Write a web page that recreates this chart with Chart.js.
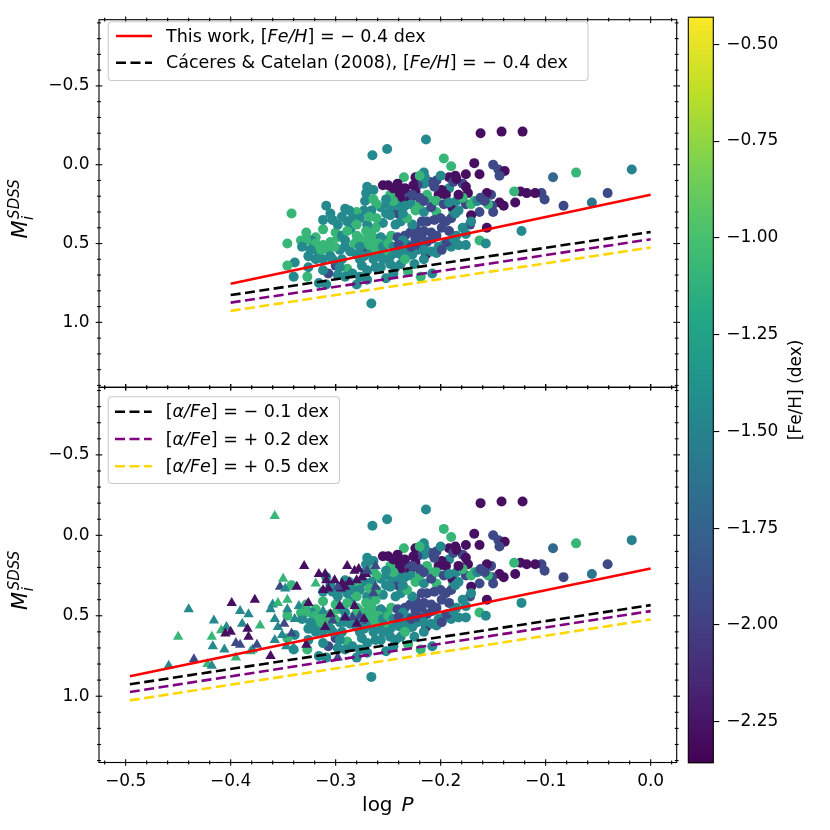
<!DOCTYPE html>
<html>
<head>
<meta charset="utf-8">
<script src="https://cdn.jsdelivr.net/npm/chart.js@4.4.1/dist/chart.umd.min.js"></script>
<style>
html,body{margin:0;padding:0;background:#fff;}
#wrap{position:relative;width:830px;height:830px;background:#fff;}
canvas{position:absolute;left:0;top:0;}
</style>
</head>
<body>
<div id="wrap">
<canvas id="topPanel" width="830" height="830"></canvas>
<canvas id="botPanel" width="830" height="830"></canvas>
<canvas id="cbar" width="830" height="830"></canvas>
</div>
<script>
// ---------------- DATA ----------------
// RR Lyrae stars (circles) : log P, M_i^SDSS, [Fe/H]
const circLogP = [-0.162,-0.142,-0.122,-0.214,-0.265,-0.251,-0.197,-0.190,-0.168,-0.150,-0.163,-0.145,-0.139,-0.144,-0.093,-0.071,-0.018,-0.041,-0.056,-0.083,
-0.101,-0.104,-0.110,-0.118,-0.124,-0.130,-0.129,-0.123,-0.140,-0.144,-0.152,-0.156,-0.151,-0.150,-0.155,-0.163,-0.168,-0.171,-0.172,-0.171,
-0.156,-0.176,-0.186,-0.192,-0.179,-0.176,-0.174,-0.176,-0.188,-0.189,-0.192,-0.195,-0.199,-0.202,-0.206,-0.210,-0.215,-0.216,-0.222,-0.224,
-0.226,-0.231,-0.229,-0.235,-0.241,-0.241,-0.238,-0.255,-0.270,-0.264,-0.248,-0.250,-0.246,-0.241,-0.234,-0.228,-0.224,-0.216,-0.213,-0.208,
-0.204,-0.200,-0.195,-0.190,-0.186,-0.183,-0.179,-0.176,-0.185,-0.192,-0.199,-0.206,-0.213,-0.218,-0.224,-0.229,-0.234,-0.238,-0.243,-0.248,
-0.252,-0.255,-0.261,-0.262,-0.266,-0.270,-0.271,-0.273,-0.272,-0.271,-0.264,-0.280,-0.284,-0.287,-0.291,-0.294,-0.309,-0.342,-0.312,-0.300,
-0.298,-0.291,-0.286,-0.280,-0.277,-0.271,-0.268,-0.262,-0.257,-0.252,-0.247,-0.241,-0.236,-0.231,-0.224,-0.218,-0.213,-0.208,-0.202,-0.197,
-0.190,-0.183,-0.176,-0.163,-0.157,-0.214,-0.222,-0.227,-0.232,-0.238,-0.243,-0.248,-0.254,-0.259,-0.264,-0.270,-0.275,-0.280,-0.286,-0.291,
-0.296,-0.301,-0.307,-0.312,-0.317,-0.319,-0.323,-0.328,-0.333,-0.332,-0.346,-0.339,-0.346,-0.340,-0.327,-0.316,-0.309,-0.307,-0.300,-0.312,
-0.305,-0.294,-0.289,-0.284,-0.280,-0.275,-0.270,-0.262,-0.255,-0.252,-0.243,-0.231,-0.219,-0.208,-0.266,-0.291,-0.298,-0.319,-0.326,-0.316,
-0.328,-0.314,-0.305,-0.294,-0.289,-0.282,-0.277,-0.273,-0.268,-0.262,-0.259,-0.255,-0.250,-0.245,-0.240,-0.234,-0.228,-0.220,-0.216,-0.209,
-0.204,-0.199,-0.194,-0.188,-0.204,-0.209,-0.216,-0.222,-0.227,-0.232,-0.236,-0.241,-0.245,-0.252,-0.257,-0.261,-0.266,-0.268,-0.277,-0.280,
-0.289,-0.298,-0.303,-0.305,-0.312,-0.319,-0.324,-0.303,-0.296,-0.277,-0.264,-0.257,-0.248,-0.238,-0.225,-0.216,-0.234,-0.245,-0.277,-0.270,
-0.312,-0.326,-0.220,-0.216,-0.209,-0.204,-0.197,-0.192,-0.185,-0.179,-0.183,-0.188,-0.185,-0.171,-0.165,-0.158,-0.162,-0.224,-0.220,-0.234,
-0.238,-0.245,-0.250,-0.227,-0.204,-0.200,-0.216,-0.220];
const circMag = [-0.20,-0.21,-0.21,-0.16,-0.06,-0.10,-0.04,0.01,-0.01,0.00,0.06,0.03,0.04,0.07,0.08,0.05,0.03,0.18,0.24,0.26,
0.22,0.18,0.18,0.18,0.17,0.17,0.24,0.42,0.26,0.24,0.19,0.18,0.26,0.30,0.25,0.30,0.23,0.32,0.38,0.36,
0.40,0.06,0.07,0.08,0.12,0.14,0.18,0.25,0.30,0.27,0.15,0.19,0.16,0.19,0.14,0.11,0.08,0.12,0.13,0.08,
0.13,0.19,0.23,0.08,0.12,0.18,0.22,0.13,0.14,0.16,0.19,0.25,0.29,0.31,0.26,0.25,0.29,0.30,0.19,0.23,
0.30,0.34,0.36,0.34,0.31,0.29,0.40,0.44,0.45,0.42,0.40,0.35,0.36,0.36,0.40,0.43,0.45,0.36,0.38,0.32,
0.31,0.37,0.34,0.40,0.43,0.38,0.42,0.29,0.23,0.18,0.22,0.30,0.34,0.29,0.28,0.33,0.26,0.31,0.41,0.43,
0.46,0.48,0.41,0.45,0.47,0.48,0.45,0.47,0.46,0.48,0.45,0.46,0.48,0.51,0.47,0.45,0.49,0.47,0.52,0.51,
0.52,0.51,0.51,0.48,0.50,0.57,0.54,0.57,0.58,0.57,0.56,0.58,0.55,0.57,0.53,0.56,0.54,0.57,0.55,0.52,
0.54,0.52,0.54,0.51,0.52,0.46,0.48,0.48,0.48,0.52,0.50,0.62,0.64,0.71,0.71,0.75,0.76,0.69,0.64,0.60,
0.58,0.60,0.66,0.69,0.76,0.64,0.67,0.65,0.60,0.72,0.65,0.68,0.71,0.69,0.88,0.71,0.70,0.60,0.58,0.56,
0.43,0.54,0.49,0.45,0.42,0.50,0.52,0.58,0.51,0.54,0.50,0.52,0.50,0.52,0.51,0.54,0.52,0.51,0.54,0.55,
0.56,0.54,0.49,0.47,0.45,0.43,0.42,0.44,0.38,0.34,0.31,0.26,0.23,0.22,0.27,0.25,0.29,0.33,0.34,0.38,
0.36,0.38,0.35,0.31,0.35,0.50,0.54,0.60,0.65,0.60,0.60,0.65,0.63,0.63,0.63,0.60,0.60,0.69,0.71,0.73,
0.67,0.65,0.25,0.23,0.27,0.23,0.25,0.24,0.23,0.21,0.19,0.11,0.09,0.25,0.23,0.23,0.21,0.17,0.21,0.15,
0.17,0.15,0.13,0.19,0.10,0.07,0.05,0.07];
const circFeH = [-2.28,-2.28,-2.28,-1.45,-1.45,-1.45,-1.08,-1.08,-2.28,-1.93,-2.28,-1.93,-2.28,-1.93,-1.70,-1.08,-1.50,-1.93,-1.60,-1.93,
-1.93,-1.93,-2.28,-2.28,-2.28,-1.08,-2.28,-1.45,-2.28,-2.28,-1.93,-2.28,-1.93,-1.93,-1.08,-1.93,-1.08,-2.28,-1.93,-1.45,
-2.28,-2.28,-2.28,-2.28,-1.93,-2.28,-2.28,-1.93,-1.08,-2.28,-1.45,-2.28,-2.28,-2.28,-1.93,-1.93,-1.45,-1.45,-1.93,-2.28,
-2.28,-1.93,-2.28,-1.08,-2.28,-2.28,-2.28,-2.28,-1.45,-1.45,-1.08,-1.45,-1.45,-1.93,-1.45,-1.45,-1.08,-1.45,-1.08,-1.08,
-1.08,-1.93,-1.93,-1.93,-1.45,-1.45,-1.45,-1.45,-1.45,-1.93,-1.93,-1.93,-1.93,-1.93,-1.93,-1.93,-1.93,-1.45,-1.45,-1.45,
-1.45,-1.45,-1.08,-1.08,-1.08,-1.45,-1.08,-1.45,-1.45,-1.45,-1.08,-1.08,-1.45,-1.45,-1.45,-1.45,-1.45,-1.08,-1.08,-1.08,
-1.08,-1.45,-1.45,-1.08,-1.08,-1.08,-1.08,-1.08,-1.45,-1.45,-1.08,-1.93,-1.45,-1.45,-1.93,-1.93,-1.93,-1.93,-1.45,-1.45,
-1.45,-1.45,-1.45,-1.08,-1.45,-2.28,-1.45,-1.45,-1.45,-1.45,-1.45,-1.45,-1.08,-1.45,-1.93,-1.45,-1.93,-1.45,-1.45,-1.45,
-1.45,-1.08,-1.08,-1.08,-1.08,-1.08,-1.45,-1.08,-1.08,-1.45,-1.08,-1.45,-1.08,-1.45,-1.08,-1.45,-1.45,-1.93,-1.93,-1.45,
-1.45,-1.45,-1.08,-1.45,-1.45,-1.45,-1.45,-1.45,-1.45,-1.45,-1.45,-1.08,-1.08,-1.45,-1.45,-1.45,-1.45,-1.45,-1.45,-1.45,
-1.08,-1.08,-1.08,-1.45,-1.08,-1.08,-1.45,-1.45,-1.08,-1.08,-1.08,-1.45,-1.08,-1.45,-1.93,-1.45,-1.93,-1.93,-1.45,-1.45,
-1.45,-1.93,-1.93,-1.45,-1.93,-1.93,-1.93,-1.93,-1.45,-1.08,-1.45,-1.45,-1.08,-1.45,-1.45,-1.08,-1.45,-1.08,-1.45,-1.08,
-1.45,-1.45,-1.45,-1.45,-1.45,-1.08,-1.45,-1.45,-1.45,-1.45,-1.45,-1.45,-1.45,-1.45,-1.45,-1.45,-1.08,-1.45,-1.45,-1.45,
-1.45,-1.45,-1.08,-1.93,-1.93,-1.08,-1.93,-1.45,-1.45,-1.08,-2.28,-1.93,-2.28,-1.08,-1.45,-1.93,-1.93,-2.28,-1.93,-2.28,
-2.28,-2.28,-2.28,-1.93,-1.93,-1.45,-1.45,-1.08];

// Additional stars (triangles), lower panel only
const triLogP = [-0.358,-0.440,-0.450,-0.459,-0.435,-0.422,-0.418,-0.416,-0.418,-0.417,-0.406,-0.409,-0.404,-0.400,-0.405,-0.399,-0.391,-0.389,-0.383,-0.384,
-0.383,-0.395,-0.391,-0.381,-0.379,-0.375,-0.395,-0.377,-0.372,-0.362,-0.358,-0.360,-0.362,-0.355,-0.358,-0.355,-0.353,-0.350,-0.348,-0.346,
-0.346,-0.351,-0.349,-0.347,-0.342,-0.339,-0.337,-0.330,-0.335,-0.332,-0.326,-0.321,-0.319,-0.316,-0.310,-0.309,-0.312,-0.307,-0.305,-0.310,
-0.303,-0.295,-0.296,-0.289,-0.287,-0.282,-0.280,-0.278,-0.275,-0.271,-0.270,-0.262,-0.262,-0.264,-0.291,-0.294,-0.298,-0.282,-0.284,-0.277,
-0.273,-0.294,-0.291,-0.280,-0.328,-0.298,-0.340,-0.312,-0.301];
const triMag = [-0.12,0.46,0.63,0.81,0.77,0.80,0.81,0.53,0.63,0.69,0.71,0.59,0.57,0.60,0.61,0.42,0.47,0.55,0.49,0.58,
0.63,0.67,0.68,0.72,0.71,0.68,0.76,0.40,0.56,0.75,0.65,0.43,0.46,0.42,0.52,0.57,0.32,0.27,0.33,0.40,
0.46,0.62,0.55,0.69,0.61,0.52,0.32,0.19,0.44,0.48,0.42,0.59,0.30,0.24,0.24,0.28,0.47,0.33,0.49,0.57,
0.53,0.33,0.44,0.19,0.29,0.22,0.28,0.21,0.26,0.24,0.22,0.19,0.32,0.36,0.32,0.30,0.32,0.44,0.51,0.50,
0.52,0.55,0.51,0.55,0.68,0.76,0.70,0.34,0.28];
const triFeH = [-1.08,-1.45,-1.08,-1.45,-1.93,-1.08,-1.45,-1.45,-1.08,-1.45,-1.45,-1.08,-1.45,-2.28,-2.28,-2.28,-1.45,-1.45,-1.45,-2.28,
-2.28,-1.93,-1.93,-1.08,-1.45,-1.93,-1.08,-2.28,-1.08,-2.28,-1.45,-1.45,-1.45,-1.08,-1.45,-1.45,-1.93,-1.08,-1.45,-1.08,
-1.45,-1.45,-1.93,-1.45,-1.93,-1.45,-2.28,-2.28,-1.45,-1.08,-2.28,-1.45,-1.08,-2.28,-2.28,-2.28,-1.45,-2.28,-2.28,-2.28,
-1.93,-2.28,-2.28,-2.28,-2.28,-2.28,-2.28,-2.28,-2.28,-2.28,-1.93,-1.93,-1.93,-1.93,-2.28,-2.28,-1.93,-2.28,-1.93,-1.93,
-2.28,-1.45,-2.28,-2.28,-2.28,-1.93,-1.45,-2.28,-2.28];

// PL relations (end points)
const relTopLogP   = [-0.40, 0.00];
const redTopMag    = [0.755, 0.190];
const blackTopMag  = [0.827, 0.427];
const purpleTopMag = [0.875, 0.473];
const goldTopMag   = [0.927, 0.525];
const relBotLogP   = [-0.496, 0.00];
const redBotMag    = [0.876, 0.206];
const blackBotMag  = [0.926, 0.434];
const purpleBotMag = [0.974, 0.471];
const goldBotMag   = [1.026, 0.523];

// Ticks
const xMajorTicks = [-0.5,-0.4,-0.3,-0.2,-0.1,0.0];
const xMinorTicks = [-0.52,-0.48,-0.46,-0.44,-0.42,-0.38,-0.36,-0.34,-0.32,-0.28,-0.26,-0.24,-0.22,-0.18,-0.16,-0.14,-0.12,-0.08,-0.06,-0.04,-0.02,0.02];
const yMajorTicks = [-0.5,0.0,0.5,1.0];
const yMinorTicks = [-0.9,-0.8,-0.7,-0.6,-0.4,-0.3,-0.2,-0.1,0.1,0.2,0.3,0.4,0.6,0.7,0.8,0.9,1.1,1.2,1.3,1.4];
const cbTicks = [-2.25,-2.00,-1.75,-1.50,-1.25,-1.00,-0.75,-0.50];

// Axis limits
const X_MIN = -0.5254, X_MAX = 0.0248;
const Y_MIN = -0.92, Y_MAX = 1.412;
const CB_MIN = -2.356, CB_MAX = -0.430;

// ---------------- STYLE / LAYOUT ----------------
const W = 830;
const AX_L = 99, AX_R = 676.7, TOP_T = 12.7, MID = 387.3, BOT_B = 762.5;
const CB_L = 688.3, CB_R = 713.3, CB_T = 12.7, CB_B = 762.7;
const FONT = '"DejaVu Sans", sans-serif';
const FS = 17;
const LFS = 17.5;
const RED = '#ff0000', BLACK = '#000000', PURPLE = '#800080', GOLD = '#ffd700';
const DASH = [10, 4.5];

Chart.defaults.font.family = FONT;
Chart.defaults.font.size = FS;
Chart.defaults.color = '#000';

const VIRIDIS = ['#440154','#482475','#414487','#355f8d','#2a788e','#21918c','#22a884','#44bf70','#7ad151','#bddf26','#fde725'];
function hex2rgb(h){return [parseInt(h.slice(1,3),16),parseInt(h.slice(3,5),16),parseInt(h.slice(5,7),16)];}
const VIR_RGB = VIRIDIS.map(hex2rgb);
function viridis(t){
  t = Math.max(0, Math.min(1, t));
  const p = t * (VIR_RGB.length - 1);
  const i = Math.min(Math.floor(p), VIR_RGB.length - 2);
  const f = p - i;
  const a = VIR_RGB[i], b = VIR_RGB[i+1];
  return 'rgb(' + [0,1,2].map(k => Math.round(a[k] + (b[k]-a[k])*f)).join(',') + ')';
}
const fehColor = v => viridis((v - CB_MIN) / (CB_MAX - CB_MIN));

const fmt1 = v => (v < -1e-9 ? '\u2212' : '') + Math.abs(v).toFixed(1);
const fmt2 = v => (v < -1e-9 ? '\u2212' : '') + Math.abs(v).toFixed(2);

function pts(xs, ys){ return xs.map((x,i)=>({x:x, y:ys[i]})); }

function lineDS(xs, ys, color, dash){
  return {data: pts(xs, ys), showLine: true, borderColor: color, backgroundColor: color,
          borderWidth: 2.6, borderDash: dash, pointRadius: 0, fill: false, order: 0};
}
function circleDS(){
  return {data: pts(circLogP, circMag), backgroundColor: circFeH.map(fehColor), borderWidth: 0,
          pointRadius: 5, pointStyle: 'circle', order: 2};
}
function triDS(){
  return {data: pts(triLogP, triMag), backgroundColor: triFeH.map(fehColor), borderWidth: 0,
          pointRadius: 6, pointStyle: 'triangle', order: 1};
}

// frame + inout ticks on four sides
const framePlugin = {
  id: 'frame',
  afterDraw(chart){
    const {ctx, chartArea: a} = chart;
    const xs = chart.scales.x, ys = chart.scales.y;
    ctx.save();
    ctx.strokeStyle = '#000';
    ctx.lineWidth = 1.1;
    ctx.strokeRect(a.left, a.top, a.right - a.left, a.bottom - a.top);
    const seg = (x0,y0,x1,y1)=>{ctx.beginPath();ctx.moveTo(x0,y0);ctx.lineTo(x1,y1);ctx.stroke();};
    const xt = (list, h) => list.forEach(v => {
      const p = xs.getPixelForValue(v);
      seg(p, a.bottom - h, p, a.bottom + h);
      seg(p, a.top - h, p, a.top + h);
    });
    const yt = (list, h) => list.forEach(v => {
      const p = ys.getPixelForValue(v);
      seg(a.left - h, p, a.left + h, p);
      seg(a.right - h, p, a.right + h, p);
    });
    xt(xMajorTicks, 3.3); xt(xMinorTicks, 1.9);
    yt(yMajorTicks, 3.3); yt(yMinorTicks, 1.9);
    ctx.restore();
  }
};

function richText(ctx, parts, x, y, size){
  let cx = x;
  for (const [txt, it] of parts){
    ctx.font = (it ? 'italic ' : '') + size + 'px ' + FONT;
    ctx.fillText(txt, cx, y);
    cx += ctx.measureText(txt).width;
  }
  return cx;
}
function roundRect(ctx, x0, y0, x1, y1, r){
  ctx.beginPath();
  ctx.moveTo(x0 + r, y0);
  ctx.lineTo(x1 - r, y0); ctx.quadraticCurveTo(x1, y0, x1, y0 + r);
  ctx.lineTo(x1, y1 - r); ctx.quadraticCurveTo(x1, y1, x1 - r, y1);
  ctx.lineTo(x0 + r, y1); ctx.quadraticCurveTo(x0, y1, x0, y1 - r);
  ctx.lineTo(x0, y0 + r); ctx.quadraticCurveTo(x0, y0, x0 + r, y0);
  ctx.closePath();
}

const legendPlugin = {
  id: 'richLegend',
  afterDraw(chart, args, opts){
    if (!opts || !opts.rows) return;
    const ctx = chart.ctx;
    const [x0,y0,x1,y1] = opts.box;
    ctx.save();
    roundRect(ctx, x0, y0, x1, y1, 3.5);
    ctx.fillStyle = 'rgba(255,255,255,0.8)'; ctx.fill();
    ctx.strokeStyle = '#cccccc'; ctx.lineWidth = 1.1; ctx.stroke();
    for (const row of opts.rows){
      const ds = chart.data.datasets[row.ds];
      ctx.strokeStyle = ds.borderColor; ctx.lineWidth = ds.borderWidth;
      ctx.setLineDash(ds.borderDash || []);
      ctx.beginPath(); ctx.moveTo(opts.hx0, row.y); ctx.lineTo(opts.hx1, row.y); ctx.stroke();
      ctx.setLineDash([]);
      ctx.fillStyle = '#000'; ctx.textBaseline = 'middle'; ctx.textAlign = 'left';
      richText(ctx, row.parts, opts.tx, row.y + 1, LFS);
    }
    ctx.restore();
  }
};

const titlesPlugin = {
  id: 'titles',
  afterDraw(chart, args, opts){
    const ctx = chart.ctx, a = chart.chartArea;
    ctx.save();
    ctx.fillStyle = '#000'; ctx.textAlign = 'left'; ctx.textBaseline = 'alphabetic';
    // y title M_i^SDSS (rotated, reads bottom to top)
    const cy = (a.top + a.bottom) / 2;
    ctx.translate(27, cy);
    ctx.rotate(-Math.PI/2);
    const fM = 'italic 21px ' + FONT, fS = 'italic 15px ' + FONT;
    ctx.font = fM; const wM = ctx.measureText('M').width;
    const x0 = -35;
    ctx.fillText('M', x0, 0);
    ctx.font = fS;
    ctx.fillText('SDSS', x0 + wM + 1.5, -8);
    ctx.fillText('i', x0 + wM + 0.5, 5.5);
    ctx.restore();
    if (opts && opts.xTitle){
      ctx.save();
      ctx.fillStyle = '#000'; ctx.textBaseline = 'alphabetic'; ctx.textAlign = 'left';
      ctx.font = '20px ' + FONT; const wl = ctx.measureText('log').width;
      ctx.font = 'italic 20px ' + FONT; const wp = ctx.measureText('P').width;
      const gap = 9;
      const cx = (a.left + a.right) / 2;
      const sx = cx - (wl + gap + wp) / 2;
      ctx.font = '20px ' + FONT; ctx.fillText('log', sx, 811);
      ctx.font = 'italic 20px ' + FONT; ctx.fillText('P', sx + wl + gap, 811);
      ctx.restore();
    }
  }
};

function panelOptions(top, bottom, showX, xh, legend, xTitle){
  return {
    responsive: false, animation: false,
    layout: {padding: {left: 0, right: W - AX_R, top: top, bottom: W - bottom - xh}},
    plugins: {legend: {display: false}, tooltip: {enabled: false}, richLegend: legend, titles: {xTitle: xTitle}},
    scales: {
      x: {type: 'linear', min: X_MIN, max: X_MAX,
          grid: {display: false, drawTicks: false}, border: {display: false},
          ticks: {display: showX, padding: 9, color: '#000', font: {size: FS}, callback: v => fmt1(v), maxRotation: 0, autoSkip: false},
          afterBuildTicks: s => { s.ticks = xMajorTicks.map(v => ({value: v})); },
          afterFit: s => { s.height = xh; }},
      y: {type: 'linear', reverse: true, min: Y_MIN, max: Y_MAX,
          grid: {display: false, drawTicks: false}, border: {display: false},
          ticks: {padding: 9.5, color: '#000', font: {size: FS}, callback: v => fmt1(v), autoSkip: false},
          afterBuildTicks: s => { s.ticks = yMajorTicks.map(v => ({value: v})); },
          afterFit: s => { s.width = AX_L; }}
    }
  };
}

const FEH_PARTS = [['[', 0], ['Fe/H', 1], ['] = \u2212 0.4 dex', 0]];

// ---------- Top panel ----------
new Chart(document.getElementById('topPanel'), {
  type: 'scatter',
  data: {datasets: [
    lineDS(relTopLogP, redTopMag, RED, []),
    lineDS(relTopLogP, blackTopMag, BLACK, DASH),
    lineDS(relTopLogP, purpleTopMag, PURPLE, DASH),
    lineDS(relTopLogP, goldTopMag, GOLD, DASH),
    circleDS()
  ]},
  options: panelOptions(TOP_T, MID, false, 0, {
    box: [108.3, 21.7, 588, 80.5], hx0: 116, hx1: 152, tx: 166,
    rows: [
      {ds: 0, y: 36, parts: [['This work, ', 0]].concat(FEH_PARTS)},
      {ds: 1, y: 62.7, parts: [['C\u00e1ceres & Catelan (2008), ', 0]].concat(FEH_PARTS)}
    ]}, false),
  plugins: [framePlugin, legendPlugin, titlesPlugin]
});

// ---------- Bottom panel ----------
new Chart(document.getElementById('botPanel'), {
  type: 'scatter',
  data: {datasets: [
    lineDS(relBotLogP, redBotMag, RED, []),
    lineDS(relBotLogP, blackBotMag, BLACK, DASH),
    lineDS(relBotLogP, purpleBotMag, PURPLE, DASH),
    lineDS(relBotLogP, goldBotMag, GOLD, DASH),
    triDS(),
    circleDS()
  ]},
  options: panelOptions(MID, BOT_B, true, W - BOT_B, {
    box: [108.3, 396.7, 339.5, 483.5], hx0: 115, hx1: 151.7, tx: 165.7,
    rows: [
      {ds: 1, y: 411.7, parts: [['[', 0], ['\u03b1/Fe', 1], ['] = \u2212 0.1 dex', 0]]},
      {ds: 2, y: 439, parts: [['[', 0], ['\u03b1/Fe', 1], ['] = + 0.2 dex', 0]]},
      {ds: 3, y: 466.3, parts: [['[', 0], ['\u03b1/Fe', 1], ['] = + 0.5 dex', 0]]}
    ]}, true),
  plugins: [framePlugin, legendPlugin, titlesPlugin]
});

// ---------- Colour bar ----------
const cbPlugin = {
  id: 'cbfill',
  beforeDatasetsDraw(chart){
    const {ctx, chartArea: a} = chart; const ys = chart.scales.y;
    ctx.save();
    for (let py = Math.floor(a.top); py < a.bottom; py++){
      const v = ys.getValueForPixel(py + 0.5);
      ctx.fillStyle = fehColor(v);
      ctx.fillRect(a.left, py, a.right - a.left, 1.2);
    }
    ctx.restore();
  },
  afterDraw(chart){
    const {ctx, chartArea: a} = chart;
    ctx.save();
    ctx.strokeStyle = '#000'; ctx.lineWidth = 1.1;
    ctx.strokeRect(a.left, a.top, a.right - a.left, a.bottom - a.top);
    ctx.fillStyle = '#000'; ctx.font = FS + 'px ' + FONT;
    ctx.textAlign = 'center'; ctx.textBaseline = 'alphabetic';
    ctx.translate(801, (a.top + a.bottom) / 2);
    ctx.rotate(-Math.PI / 2);
    ctx.fillText('[Fe/H] (dex)', 0, 0);
    ctx.restore();
  }
};
new Chart(document.getElementById('cbar'), {
  type: 'scatter',
  data: {datasets: [{data: [], pointRadius: 0}]},
  options: {
    responsive: false, animation: false,
    layout: {padding: {left: CB_L, right: 0, top: CB_T, bottom: W - CB_B}},
    plugins: {legend: {display: false}, tooltip: {enabled: false}},
    scales: {
      x: {type: 'linear', display: false, min: 0, max: 1},
      y: {type: 'linear', position: 'right', min: CB_MIN, max: CB_MAX,
          grid: {display: true, drawOnChartArea: false, drawTicks: true, tickLength: 6, color: '#000', lineWidth: 1.1},
          border: {display: false},
          ticks: {padding: 7, color: '#000', font: {size: FS}, callback: v => fmt2(v), autoSkip: false},
          afterBuildTicks: s => { s.ticks = cbTicks.map(v => ({value: v})); },
          afterFit: s => { s.width = W - CB_R; }}
    }
  },
  plugins: [cbPlugin]
});
</script>
</body>
</html>
